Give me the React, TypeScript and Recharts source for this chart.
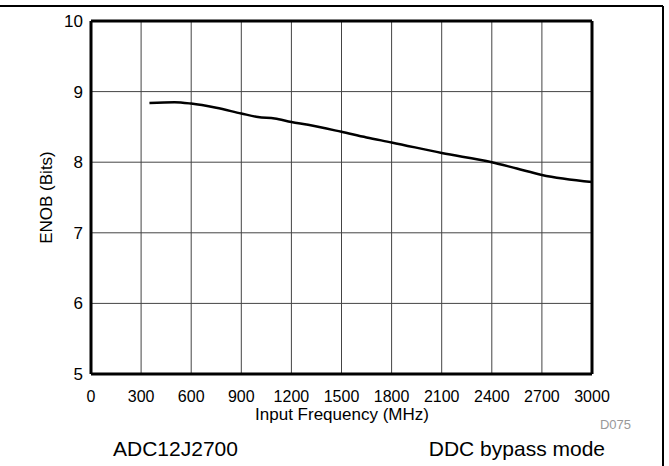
import React from 'react'
import { LineChart, Line, XAxis, YAxis, CartesianGrid, ReferenceLine } from 'recharts'

// values
const freqMHz = [350, 500, 600, 750, 900, 1000, 1100, 1200, 1300, 1500, 1650, 1800, 2100, 2400, 2550, 2700, 3000]
const enobBits = [8.84, 8.85, 8.83, 8.77, 8.69, 8.64, 8.62, 8.57, 8.53, 8.43, 8.35, 8.28, 8.13, 8.0, 7.91, 7.82, 7.72]

const xTicks = [0, 300, 600, 900, 1200, 1500, 1800, 2100, 2400, 2700, 3000]
const yTicks = [5, 6, 7, 8, 9, 10]

const data = freqMHz.map((f, i) => ({ f, enob: enobBits[i] }))

const font = '"Liberation Sans", Arial, sans-serif'

export default function App() {
  return (
    <div style={{ position: 'absolute', left: 0, top: 0, width: 669, height: 466, background: '#fff', fontFamily: font }}>
      <LineChart
        width={669}
        height={466}
        data={data}
        margin={{ top: 21, right: 77, bottom: 62, left: 0 }}
      >
        <CartesianGrid stroke="#444" strokeWidth={1} />
        <XAxis
          dataKey="f"
          type="number"
          domain={[0, 3000]}
          ticks={xTicks}
          interval={0}
          height={30}
          tickLine={false}
          axisLine={false}
          tickSize={0}
          tickMargin={17}
          tick={{ fill: '#000', fontSize: 16, fontFamily: font }}
        />
        <YAxis
          type="number"
          domain={[5, 10]}
          ticks={yTicks}
          interval={0}
          width={91}
          tickLine={false}
          axisLine={false}
          tickSize={0}
          tickMargin={8}
          tick={{ fill: '#000', fontSize: 17, fontFamily: font }}
          label={{ value: 'ENOB (Bits)', angle: -90, position: 'center', dx: 0, fill: '#000', fontSize: 17, fontFamily: font }}
        />
        <ReferenceLine x={0} stroke="#000" strokeWidth={3} />
        <ReferenceLine x={3000} stroke="#000" strokeWidth={3} />
        <ReferenceLine y={5} stroke="#000" strokeWidth={3} />
        <ReferenceLine y={10} stroke="#000" strokeWidth={3} />
        <Line
          dataKey="enob"
          type="monotone"
          stroke="#000"
          strokeWidth={2.5}
          dot={false}
          isAnimationActive={false}
        />
      </LineChart>
      <svg width={669} height={466} style={{ position: 'absolute', left: 0, top: 0, pointerEvents: 'none' }}>
        <line x1={0} y1={6} x2={663} y2={6} stroke="#000" strokeWidth={2} />
        <line x1={663} y1={6} x2={663} y2={466} stroke="#000" strokeWidth={2} />
        <text x={342} y={420} textAnchor="middle" fontSize={17} fontFamily={font} fill="#000">Input Frequency (MHz)</text>
        <text x={631} y={429} textAnchor="end" fontSize={13} fontFamily={font} fill="#999">D075</text>
        <text x={113} y={456} fontSize={21} fontFamily={font} fill="#000">ADC12J2700</text>
        <text x={605} y={456} textAnchor="end" fontSize={21} fontFamily={font} fill="#000">DDC bypass mode</text>
      </svg>
    </div>
  )
}
